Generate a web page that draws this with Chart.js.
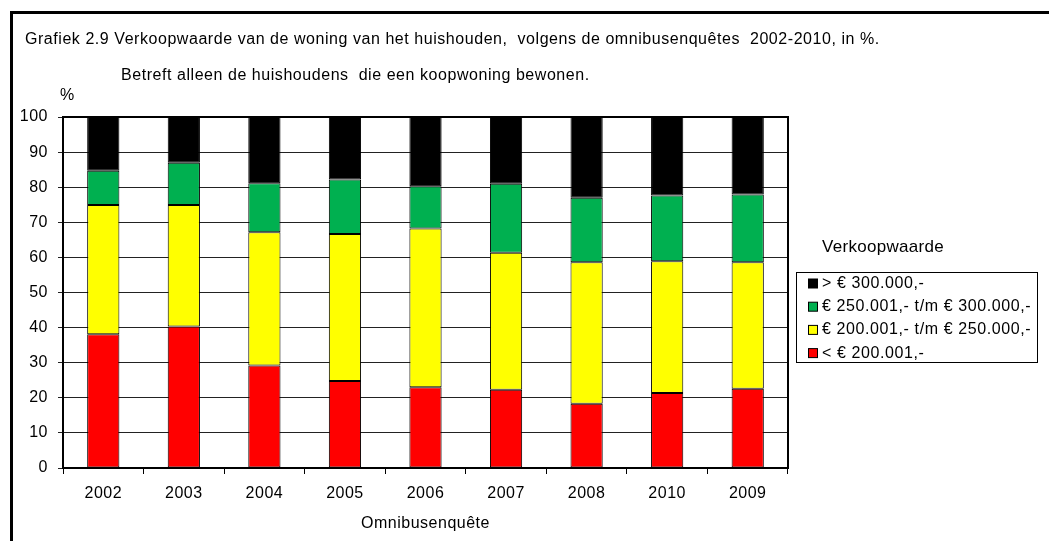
<!DOCTYPE html>
<html>
<head>
<meta charset="utf-8">
<script src="https://cdn.jsdelivr.net/npm/chart.js@4"></script>
<style>
  html, body { margin: 0; padding: 0; background: #fff; }
  #wrap { width: 1049px; height: 541px; position: relative; }
</style>
</head>
<body>
<div id="wrap"><canvas id="chart" width="1049" height="541"></canvas></div>
<script>
// categories (order as in the source chart)
const years = ['2002', '2003', '2004', '2005', '2006', '2007', '2008', '2010', '2009'];

// series values, % of households
const under200k = [38.1, 40.3, 29.2, 24.8, 23.0, 22.3, 18.3, 21.4, 22.6];
const from200to250k = [36.8, 34.6, 38.0, 41.9, 45.2, 39.0, 40.3, 37.5, 36.0];
const from250to300k = [9.8, 12.1, 13.9, 15.5, 12.1, 19.7, 18.4, 18.7, 19.3];
const over300k = [15.3, 13.0, 18.9, 17.8, 19.7, 19.0, 23.0, 22.4, 22.1];

const yTicks = [0, 10, 20, 30, 40, 50, 60, 70, 80, 90, 100];

const seriesNames = ['< € 200.001,-', '€ 200.001,- t/m € 250.000,-', '€ 250.001,- t/m € 300.000,-', '> € 300.000,-'];
const seriesColors = ['#FF0000', '#FFFF00', '#00B050', '#000000'];

const titleText = 'Grafiek 2.9 Verkoopwaarde van de woning van het huishouden,  volgens de omnibusenquêtes  2002-2010, in %.';
const subtitleText = 'Betreft alleen de huishoudens  die een koopwoning bewonen.';
const legendTitle = 'Verkoopwaarde';

const FONT = '"Liberation Sans", Arial, sans-serif';

// frame, titles, plot border and legend drawn on the canvas
const decorations = {
  id: 'decorations',
  beforeDraw(chart) {
    const ctx = chart.ctx;
    ctx.fillStyle = '#fff';
    ctx.fillRect(0, 0, chart.width, chart.height);
    ctx.fillStyle = '#000';
    ctx.fillRect(10, 11, chart.width, 3);
    ctx.fillRect(10, 11, 3, chart.height);
    // source text is set slightly wider than our font
    ctx.letterSpacing = '0.5px';
  },
  afterDraw(chart) {
    const ctx = chart.ctx;
    const area = chart.chartArea;
    ctx.save();
    ctx.fillStyle = '#000';
    ctx.textBaseline = 'middle';
    ctx.textAlign = 'left';
    ctx.letterSpacing = '0.55px';
    ctx.font = '16px ' + FONT;
    ctx.fillText(titleText, 25, 40);
    ctx.fillText(subtitleText, 121, 76);
    ctx.fillText('%', 60, 96);

    // plot area border
    ctx.strokeStyle = '#000';
    ctx.lineWidth = 2;
    ctx.strokeRect(area.left, area.top, area.right - area.left, area.bottom - area.top);

    // legend
    ctx.letterSpacing = '0.3px';
    ctx.font = '17px ' + FONT;
    ctx.fillText(legendTitle, 822, 247);
    ctx.lineWidth = 1;
    ctx.strokeRect(796.5, 272.5, 241, 90);
    ctx.letterSpacing = '0.6px';
    ctx.font = '16px ' + FONT;
    const ds = chart.data.datasets;
    for (let i = ds.length - 1, row = 0; i >= 0; i--, row++) {
      const y = 283.5 + row * 23.2;
      ctx.fillStyle = ds[i].backgroundColor;
      ctx.fillRect(808.5, y - 4.5, 9, 9);
      ctx.strokeStyle = '#000';
      ctx.strokeRect(808.5, y - 4.5, 9, 9);
      ctx.fillStyle = '#000';
      ctx.fillText(ds[i].label, 822, y);
    }
    ctx.restore();
  }
};

new Chart(document.getElementById('chart').getContext('2d'), {
  type: 'bar',
  data: {
    labels: years,
    datasets: [under200k, from200to250k, from250to300k, over300k].map((values, i) => ({
      label: seriesNames[i],
      data: values,
      backgroundColor: seriesColors[i],
      borderColor: '#000',
      borderWidth: 1,
      borderSkipped: false,
      categoryPercentage: 1,
      barPercentage: 0.4
    }))
  },
  options: {
    responsive: false,
    animation: false,
    layout: { padding: { top: 117, left: 0, right: 261, bottom: 0 } },
    plugins: {
      legend: { display: false },
      tooltip: { enabled: false },
      title: { display: false }
    },
    scales: {
      x: {
        stacked: true,
        afterFit(scale) { scale.height = 73; },
        grid: {
          offset: true,
          drawOnChartArea: false,
          drawTicks: true,
          tickLength: 6,
          color: '#000',
          lineWidth: 1
        },
        border: { display: true, color: '#000', width: 2 },
        ticks: { color: '#000', padding: 10, font: { family: FONT, size: 16 } },
        title: {
          display: true,
          text: 'Omnibusenquête',
          color: '#000',
          padding: { top: 4, bottom: 8 },
          font: { family: FONT, size: 16 }
        }
      },
      y: {
        stacked: true,
        min: 0,
        max: 100,
        afterFit(scale) { scale.width = 63; },
        afterBuildTicks(scale) { scale.ticks = yTicks.map(v => ({ value: v })); },
        grid: {
          color: '#222',
          lineWidth: 1,
          drawTicks: true,
          tickLength: 5
        },
        border: { display: true, color: '#000', width: 2 },
        ticks: { color: '#000', padding: 10, font: { family: FONT, size: 16 } }
      }
    }
  },
  plugins: [decorations]
});
</script>
</body>
</html>
